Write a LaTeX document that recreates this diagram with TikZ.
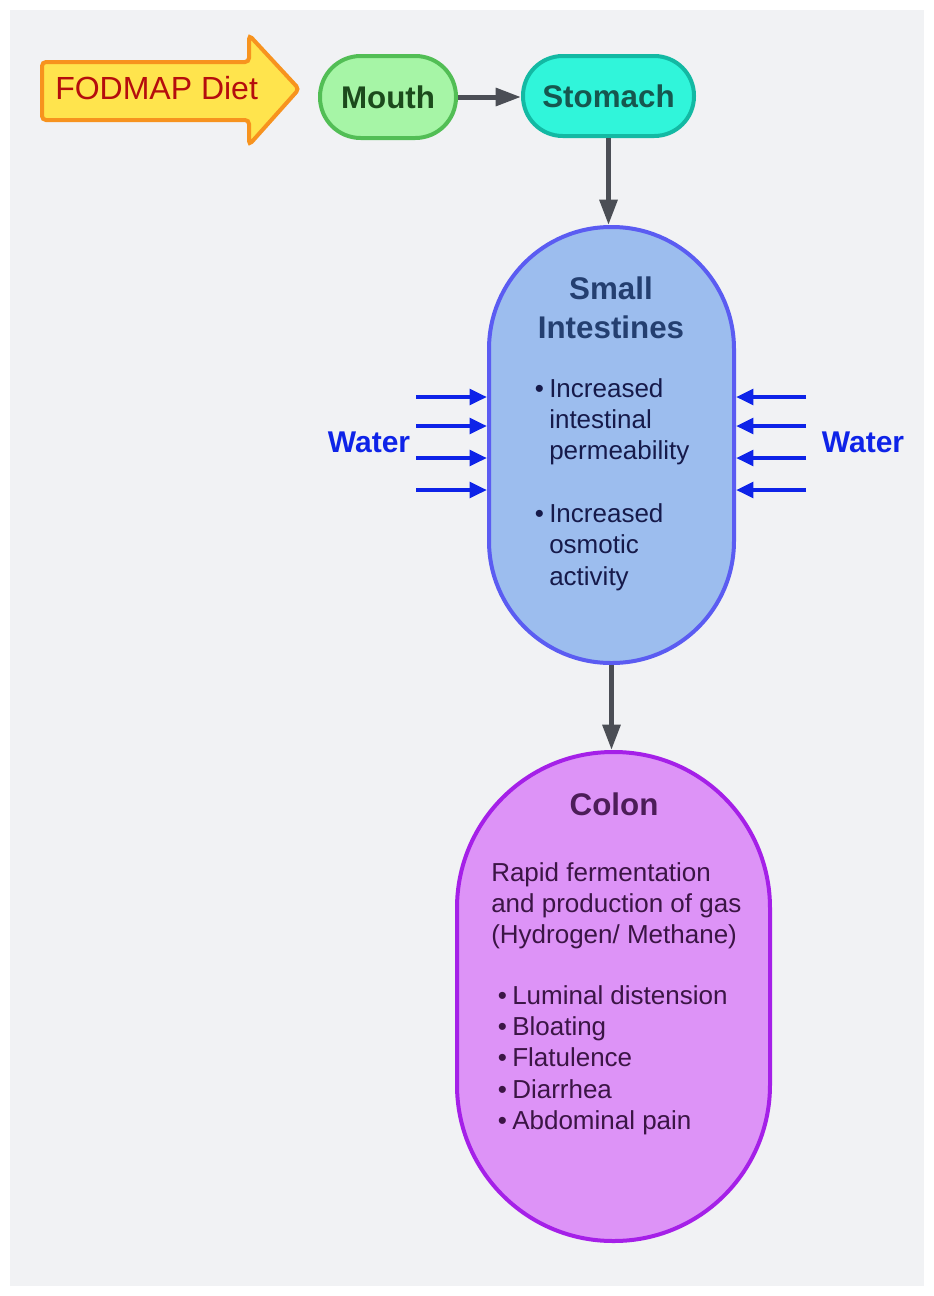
\documentclass[tikz,border=0pt]{standalone}
\usepackage{fontspec}
\setmainfont{Liberation Sans}
\usetikzlibrary{arrows.meta}

\definecolor{bggray}{RGB}{241,242,244}
\definecolor{dietyellow}{RGB}{255,228,77}
\definecolor{dietorange}{RGB}{247,147,30}
\definecolor{dietred}{RGB}{181,13,13}
\definecolor{mouthgreen}{RGB}{166,245,166}
\definecolor{mouthedge}{RGB}{82,190,85}
\definecolor{mouthtext}{RGB}{28,74,28}
\definecolor{stomachteal}{RGB}{48,245,218}
\definecolor{stomachedge}{RGB}{19,185,163}
\definecolor{stomachtext}{RGB}{22,87,79}
\definecolor{smallblue}{RGB}{156,189,238}
\definecolor{smalledge}{RGB}{91,92,242}
\definecolor{smalltitle}{RGB}{36,63,112}
\definecolor{smalltext}{RGB}{22,26,74}
\definecolor{waterblue}{RGB}{14,35,232}
\definecolor{colonpink}{RGB}{221,147,247}
\definecolor{colonedge}{RGB}{165,32,232}
\definecolor{colontitle}{RGB}{76,29,88}
\definecolor{colontext}{RGB}{59,21,69}
\definecolor{flowgray}{RGB}{75,78,85}

\tikzset{
	pill/.style={draw, line width=3pt, inner sep=0pt},
	flow/.style={draw=flowgray, line width=3.75pt, -{Triangle[length=19pt,width=13pt]}},
	water/.style={draw=waterblue, line width=3.2pt, -{Triangle[length=13pt,width=11.5pt]}},
	title/.style={font=\bfseries\fontsize{23.5}{29.25}\selectfont, align=center, inner sep=0pt},
	body/.style={font=\fontsize{19.5}{23.5}\selectfont, align=left, inner sep=0pt},
}

\begin{document}
\begin{tikzpicture}[x=0.75pt,y=-0.75pt]
		\fill[white] (0,0) rectangle (934,1296);
		\useasboundingbox (0,0) rectangle (934,1296);
		\fill[bggray] (10,10) rectangle (924,1286);

		% diet arrow
		\draw[fill=dietyellow, draw=dietorange, line width=3pt, rounded corners=3pt]
			(42,62) -- (249,62) -- (249,35) -- (299,89) -- (249,145) -- (249,120) -- (42,120) -- cycle;
		\node[font=\fontsize{24}{28}\selectfont, text=dietred, anchor=west, inner sep=0pt] (diet) at (55,88) {FODMAP Diet};

		\node[pill, title, fill=mouthgreen, draw=mouthedge, text=mouthtext,
			minimum width=102pt, minimum height=61.5pt, rounded corners=30.5pt] (mouth) at (388,97) {Mouth};
		\node[pill, title, fill=stomachteal, draw=stomachedge, text=stomachtext,
			minimum width=128.25pt, minimum height=60pt, rounded corners=29.8pt] (stomach) at (608.5,96) {Stomach};

		\node[pill, fill=smallblue, draw=smalledge,
			minimum width=183.75pt, minimum height=327pt, rounded corners=91.5pt] (small) at (611.5,445) {};
		\node[title, text=smalltitle] (smalltitle) at (611,307.5) {Small\\Intestines};
		\node[body, text=smalltext, anchor=north west] (smallpts) at (549,378)
			{\llap{•\hspace{4pt}}Increased\\intestinal\\permeability\\[23.5pt]\llap{•\hspace{4pt}}Increased\\osmotic\\activity};

		\node[pill, fill=colonpink, draw=colonedge,
			minimum width=234.75pt, minimum height=366.75pt, rounded corners=117pt] (colon) at (613.5,996.5) {};
		\node[title, text=colontitle] (colontitle) at (614,804) {Colon};
		\node[body, text=colontext, anchor=north west] (gas) at (491,862)
			{Rapid fermentation\\and production of gas\\(Hydrogen/ Methane)};
		\node[body, text=colontext, anchor=north west] (symptoms) at (512,985)
			{\llap{•\hspace{4pt}}Luminal distension\\\llap{•\hspace{4pt}}Bloating\\\llap{•\hspace{4pt}}Flatulence\\\llap{•\hspace{4pt}}Diarrhea\\\llap{•\hspace{4pt}}Abdominal pain};

		% water in
		\node[font=\bfseries\fontsize{22.5}{26}\selectfont, text=waterblue] (waterl) at (369,442) {Water};
		\node[font=\bfseries\fontsize{22.5}{26}\selectfont, text=waterblue] (waterr) at (863,442) {Water};
		\foreach \y [count=\i] in {397,426,458,490} {
			\coordinate (wl\i) at (416,\y);
			\coordinate (wr\i) at (806,\y);
			\draw[water] (wl\i) -- (wl\i -| small.west);
			\draw[water] (wr\i) -- (wr\i -| small.east);
		}

		\draw[flow] (mouth.east) -- (mouth.east -| stomach.west);
		\draw[flow] (stomach.south) -- (stomach.south |- small.north);
		\draw[flow] (small.south) -- (small.south |- colon.north);
	\end{tikzpicture}
\end{document}
